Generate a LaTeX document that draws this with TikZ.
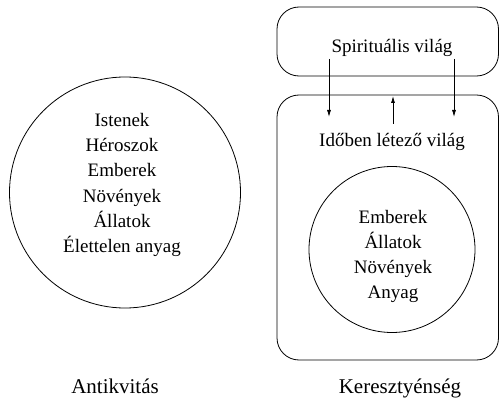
\documentclass[tikz,border=0pt]{standalone}
\usepackage{fontspec}
\setmainfont{Liberation Serif}
\usetikzlibrary{arrows.meta}
\begin{document}
\begin{tikzpicture}[x=1pt,y=-1pt,
  line/.style={draw=black,line width=0.8pt},
  body/.style={align=center,inner sep=0pt,font=\fontsize{19}{25.2}\selectfont},
  caption/.style={anchor=base,inner sep=0pt,font=\fontsize{21}{25}\selectfont},
  world/.style={line,rounded corners=22pt},
  link/.style={line,-{Latex[length=7pt,width=4pt]}}]
\useasboundingbox (0,0) rectangle (499,404);
% Antiquity
\node[line,circle,minimum size=231pt,inner sep=0pt] (antcircle) at (125,192.5) {};
\node[body] (antlist) at (122,185) {Istenek\\Héroszok\\Emberek\\Növények\\Állatok\\Élettelen anyag};
\node[caption] (antlabel) at (115,393) {Antikvitás};
% Christianity
\draw[world] (277,7) rectangle (498.5,76);
\draw[world] (277,95) rectangle (498.5,360);
\node[inner sep=0pt,anchor=base,font=\fontsize{19}{25}\selectfont] (spirit) at (392,53) {Spirituális világ};
\node[inner sep=0pt,anchor=base,font=\fontsize{19}{25}\selectfont] (time) at (392,147) {Időben létező világ};
\node[line,circle,minimum size=166pt,inner sep=0pt] (chrcircle) at (392,249.5) {};
\node[body] (chrlist) at (393,256.5) {Emberek\\Állatok\\Növények\\Anyag};
\node[caption] (chrlabel) at (400,393) {Keresztyénség};
% links between the two worlds
\coordinate (l1) at (329,59);
\coordinate (l2) at (329,117);
\coordinate (r1) at (454,59);
\coordinate (r2) at (454,117);
\coordinate (m1) at (393,124);
\coordinate (m2) at (393,96);
\draw[link] (l1) -- (l2);
\draw[link] (r1) -- (r2);
\draw[link] (m1) -- (m2);
\end{tikzpicture}
\end{document}
